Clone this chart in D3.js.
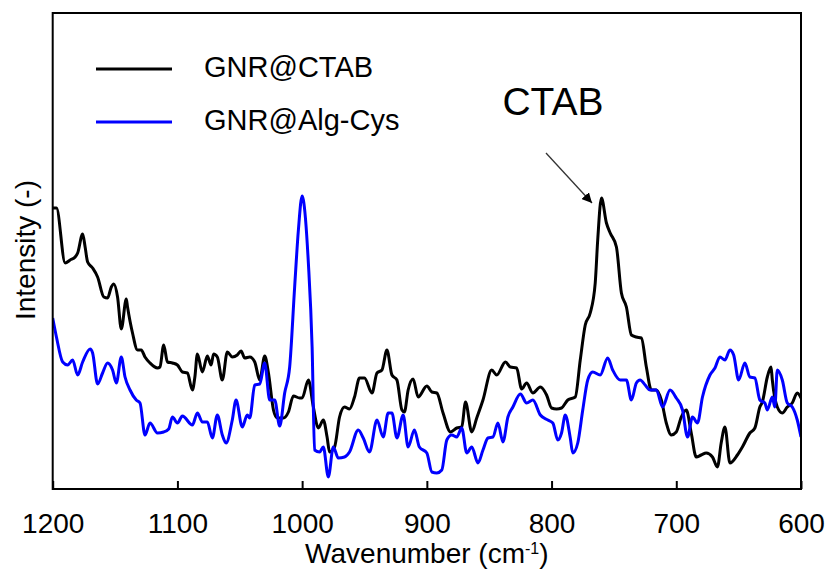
<!DOCTYPE html>
<html>
<head>
<meta charset="utf-8">
<script src="https://cdn.jsdelivr.net/npm/d3@7"></script>
<style>
  body { margin: 0; background: #fff; }
  text { font-family: Arial, "Liberation Sans", sans-serif; fill: #000; }
</style>
</head>
<body>
<div id="plot" style="width:831px;height:579px"></div>
<script>
var w = 831, h = 579;

// wavenumber (cm-1) and intensity (a.u.)
var ctabWn = [1200,1197,1190,1186,1182,1180,1176,1174,1172,1168,1164,1159,1156,1153,1151,1148,1145,1141,1140,1136,1132,1129,1126,1122,1116,1114,1111,1108,1104,1100,1096,1092,1088,1086,1084,1080,1076,1073,1071,1068,1064,1060,1056,1052,1049,1046,1042,1038,1034,1030,1027,1023,1020,1015,1011,1007,1002,1000,995,991,987,983,980,978,974,970,966,962,958,954,950,944,940,936,932,928,924,920,918,915,911,907,900,896,892,887,881,876,872,869,864,860,855,848,844,837,833,828,824,820,815,809,804,800,796,792,787,781,777,773,769,765,763,760,756,753,748,744,740,736,732,728,724,720,716,712,708,704,700,696,692,688,684,680,676,671,667,664,661,657,651,647,641,637,633,631,627,624,623,619,615,611,607,603,600];
var ctabI = [281,281,226,229,232,236,255,242,227,221,212,192,191,202,205,192,160,190,182,156,139,139,132,126,121,122,144,127,126,124,117,116,99,112,135,117,133,124,135,132,109,137,132,134,138,131,132,127,109,133,116,79,71,71,77,93,91,91,109,82,61,69,52,37,42,72,82,80,92,111,111,96,116,119,139,114,109,79,77,99,110,92,103,97,96,76,57,61,62,87,57,71,89,119,114,127,122,121,100,106,96,102,94,81,80,81,89,92,129,164,176,206,249,291,266,256,242,196,182,154,152,151,122,99,99,89,66,54,57,72,79,56,32,34,36,32,22,46,62,26,34,42,56,61,82,87,112,122,109,82,76,82,86,96,91];

var algWn = [1200,1197,1192,1188,1184,1180,1176,1170,1168,1164,1160,1156,1152,1149,1145,1142,1138,1133,1130,1126,1122,1116,1111,1107,1104,1100,1096,1088,1084,1080,1076,1072,1068,1064,1061,1056,1053,1048,1044,1042,1038,1034,1030,1026,1022,1018,1014,1010,1006,1003,1000,999,995,992,990,986,983,979,975,971,966,962,955,951,946,940,935,931,928,924,919,915,910,906,900,896,892,888,884,880,876,872,868,864,859,855,851,847,843,839,835,831,825,820,815,809,803,799,795,792,789,785,783,779,775,771,767,761,755,751,745,740,736,732,729,725,721,716,711,705,700,695,691,687,683,679,673,669,665,661,657,654,650,645,641,637,633,629,627,623,621,619,615,611,607,603,600];
var algI = [171,152,127,124,129,114,127,140,136,105,116,126,119,106,132,112,99,89,86,54,66,56,57,60,72,66,73,64,76,67,67,51,74,54,46,69,89,62,74,71,104,105,126,89,89,63,96,122,202,259,293,289,226,142,39,37,42,12,42,31,32,37,59,51,37,69,52,76,76,51,74,42,59,42,36,17,16,19,49,54,52,61,36,42,26,39,51,52,66,47,72,82,95,86,89,74,69,66,49,56,74,51,36,46,79,109,117,114,131,119,109,109,89,106,109,104,99,99,82,99,91,79,52,72,66,92,114,121,132,129,139,134,109,126,112,111,89,86,79,92,82,119,109,86,82,69,52];

var seriesNames = ['GNR@CTAB', 'GNR@Alg-Cys'];
var seriesColors = ['#000000', '#0000ff'];
var xTicks = [1200, 1100, 1000, 900, 800, 700, 600];

var margin = {left: 52.7, right: 801, top: 13, bottom: 489};

var svg = d3.select('#plot').append('svg')
    .attr('width', w)
    .attr('height', h);

var x = d3.scaleLinear().domain([1200, 600]).range([margin.left, margin.right]);
var y = d3.scaleLinear().domain([0, 476]).range([margin.bottom, margin.top]);

svg.append('defs').append('clipPath').attr('id', 'clip')
  .append('rect')
    .attr('x', margin.left).attr('y', margin.top)
    .attr('width', margin.right - margin.left)
    .attr('height', margin.bottom - margin.top);

var line = d3.line()
    .x(function(d){ return x(d[0]); })
    .y(function(d){ return y(d[1]); })
    .curve(d3.curveMonotoneX);

var series = [d3.zip(ctabWn, ctabI), d3.zip(algWn, algI)];

svg.append('g').attr('clip-path', 'url(#clip)')
  .selectAll('.spec')
  .data(series)
  .enter()
  .append('path')
    .attr('class', 'spec')
    .attr('d', line)
    .style('fill', 'none')
    .style('stroke', function(d, i){ return seriesColors[i]; })
    .style('stroke-width', 3)
    .style('stroke-linejoin', 'round');

// x axis, ticks pointing inward
var xAxis = d3.axisBottom(x)
    .tickValues(xTicks)
    .tickFormat(d3.format('d'))
    .tickSizeInner(-8)
    .tickSizeOuter(0)
    .tickPadding(24);

var gx = svg.append('g')
    .attr('transform', 'translate(0,' + margin.bottom + ')')
    .call(xAxis);
gx.select('.domain').remove();
gx.selectAll('.tick line').style('stroke', '#000').style('stroke-width', 2);
gx.selectAll('.tick text')
    .style('font-size', '28px')
    .style('font-family', 'Arial, "Liberation Sans", sans-serif')
    .style('fill', '#000');

// frame
svg.append('rect')
    .attr('x', margin.left).attr('y', margin.top)
    .attr('width', margin.right - margin.left)
    .attr('height', margin.bottom - margin.top)
    .style('fill', 'none')
    .style('stroke', '#000')
    .style('stroke-width', 2);

// axis titles
var xt = svg.append('text')
    .attr('x', (margin.left + margin.right) / 2)
    .attr('y', 563)
    .attr('text-anchor', 'middle')
    .style('font-size', '28px');
xt.append('tspan').text('Wavenumber (cm');
xt.append('tspan').attr('dy', -9).style('font-size', '16px').text('-1');
xt.append('tspan').attr('dy', 9).text(')');

svg.append('text')
    .attr('transform', 'translate(35,250) rotate(-90)')
    .attr('text-anchor', 'middle')
    .style('font-size', '28px')
    .text('Intensity (-)');

// legend
var legend = svg.append('g').selectAll('.leg')
    .data(seriesNames)
    .enter()
    .append('g')
    .attr('class', 'leg')
    .attr('transform', function(d, i){ return 'translate(0,' + (69 + i * 53) + ')'; });

legend.append('line')
    .attr('x1', 96).attr('x2', 172)
    .style('stroke', function(d, i){ return seriesColors[i]; })
    .style('stroke-width', 3);

legend.append('text')
    .attr('x', 204).attr('y', 8)
    .style('font-size', '29px')
    .text(function(d){ return d; });

// CTAB annotation
svg.append('defs').append('marker')
    .attr('id', 'arrow')
    .attr('viewBox', '0 0 10 10')
    .attr('refX', 10).attr('refY', 5)
    .attr('markerWidth', 10).attr('markerHeight', 10)
    .attr('markerUnits', 'userSpaceOnUse')
    .attr('orient', 'auto')
  .append('path')
    .attr('d', 'M0,0L10,5L0,10Z')
    .style('fill', '#000');

svg.append('line')
    .attr('x1', 546).attr('y1', 153)
    .attr('x2', 592).attr('y2', 203)
    .attr('marker-end', 'url(#arrow)')
    .style('stroke', '#333')
    .style('stroke-width', 1.3);

svg.append('text')
    .attr('x', 553).attr('y', 115)
    .attr('text-anchor', 'middle')
    .style('font-size', '39px')
    .text('CTAB');
</script>
</body>
</html>
